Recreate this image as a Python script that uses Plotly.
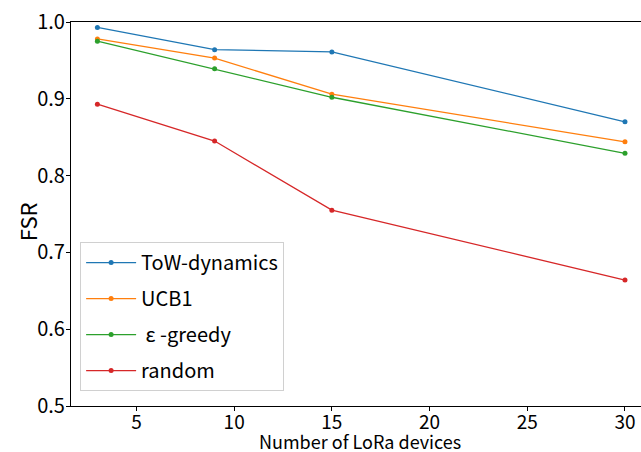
import plotly.graph_objects as go

devices = [3, 9, 15, 30]
series_names = ["ToW-dynamics", "UCB1", " ε -greedy", "random"]
tow = [0.993, 0.964, 0.961, 0.870]
ucb1 = [0.978, 0.953, 0.906, 0.844]
eps_greedy = [0.975, 0.939, 0.902, 0.829]
random_sel = [0.893, 0.845, 0.755, 0.664]
colors = ["#1f77b4", "#ff7f0e", "#2ca02c", "#d62728"]
x_ticks = [5, 10, 15, 20, 25, 30]
y_ticks = [0.5, 0.6, 0.7, 0.8, 0.9, 1.0]

FONT = "Noto Sans CJK JP"

fig = go.Figure()
for name, vals, c in zip(series_names, [tow, ucb1, eps_greedy, random_sel], colors):
    fig.add_trace(go.Scatter(
        x=devices, y=vals, name=name, mode="lines+markers",
        line=dict(color=c, width=1.3),
        marker=dict(color=c, size=5),
        legendgroup=name,
    ))

fig.update_layout(
    width=641, height=452,
    margin=dict(l=71, r=0, t=22, b=46, autoexpand=False),
    paper_bgcolor="white", plot_bgcolor="white",
    font=dict(family=FONT, color="black"),
    showlegend=True,
    legend=dict(
        x=0.016, y=0.427, xanchor="left", yanchor="top",
        bgcolor="white", bordercolor="#d0d0d0", borderwidth=1,
        font=dict(family=FONT, size=20, color="black"),
        tracegroupgap=7, itemwidth=50,
    ),
    xaxis=dict(
        range=[1.65, 30.82], tickvals=x_ticks, automargin=False,
        showline=True, linecolor="black", linewidth=1.2, mirror=True,
        ticks="outside", ticklen=4, tickcolor="black",
        showgrid=False, zeroline=False, ticklabelstandoff=-5,
        tickfont=dict(family=FONT, size=19),
    ),
    yaxis=dict(
        range=[0.5, 1.0], tickvals=y_ticks, tickformat=".1f", automargin=False,
        showline=True, linecolor="black", linewidth=1.2,
        ticks="outside", ticklen=4, tickcolor="black",
        showgrid=False, zeroline=False, ticklabelstandoff=-3,
        tickfont=dict(family=FONT, size=20),
    ),
    annotations=[
        dict(text="Number of LoRa devices", xref="paper", yref="paper",
             x=0.507, y=-0.09, xanchor="center", yanchor="middle",
             showarrow=False, font=dict(family=FONT, size=18)),
        dict(text="FSR", xref="paper", yref="paper",
             x=-0.077, y=0.479, xanchor="center", yanchor="middle", textangle=-90,
             showarrow=False, font=dict(family=FONT, size=22)),
    ],
)

fig.write_html("out.html", config={"displayModeBar": False},
               post_script="document.body.style.margin='0';document.body.style.overflow='hidden';")
